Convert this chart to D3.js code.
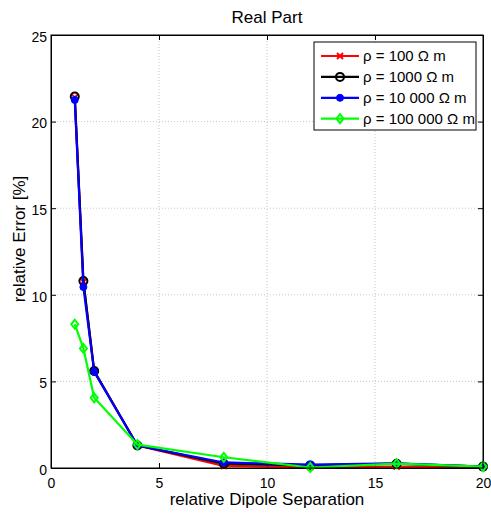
<!DOCTYPE html>
<html>
<head>
<meta charset="utf-8">
<script src="https://cdn.jsdelivr.net/npm/d3@7"></script>
<style>
body { margin: 0; background: #fff; }
text { font-family: "Liberation Sans", Arial, sans-serif; }
</style>
</head>
<body>
<div id="chart"></div>
<script>
// data
const separation = [1.1, 1.5, 2, 4, 8, 12, 16, 20];
const err100 = [21.4, 10.75, 5.6, 1.3, 0.12, 0.05, 0.08, 0.05];
const err1000 = [21.45, 10.8, 5.6, 1.3, 0.25, 0.15, 0.25, 0.08];
const err10000 = [21.25, 10.45, 5.55, 1.3, 0.32, 0.2, 0.27, 0.08];
const err100000 = [8.3, 6.9, 4.05, 1.35, 0.62, 0.03, 0.25, 0.08];
const seriesNames = ["ρ = 100 Ω m", "ρ = 1000 Ω m", "ρ = 10 000 Ω m", "ρ = 100 000 Ω m"];
const xTicks = [0, 5, 10, 15, 20];
const yTicks = [0, 5, 10, 15, 20, 25];

const series = [
    {name: seriesNames[0], values: err100, color: "#ff0000", marker: "x"},
    {name: seriesNames[1], values: err1000, color: "#000000", marker: "o"},
    {name: seriesNames[2], values: err10000, color: "#0000ff", marker: "dot"},
    {name: seriesNames[3], values: err100000, color: "#00ff00", marker: "d"}
];

const W = 491, H = 517;
const margin = {top: 35, right: 8, bottom: 49, left: 51};
const svg = d3.select("#chart").append("svg")
    .attr("width", W)
    .attr("height", H);

const x = d3.scaleLinear().domain([0, 20]).range([margin.left, W - margin.right]);
const y = d3.scaleLinear().domain([0, 25]).range([H - margin.bottom, margin.top]);

// grid
const grid = svg.append("g");
xTicks.slice(1, -1).forEach(t => {
    grid.append("line")
        .attr("x1", x(t)).attr("x2", x(t))
        .attr("y1", y(0)).attr("y2", y(25))
        .attr("stroke", "#c8c8c8").attr("stroke-dasharray", "1,2");
});
yTicks.slice(1, -1).forEach(t => {
    grid.append("line")
        .attr("x1", x(0)).attr("x2", x(20))
        .attr("y1", y(t)).attr("y2", y(t))
        .attr("stroke", "#c8c8c8").attr("stroke-dasharray", "1,2");
});

// axes (ticks pointing inward)
const xAxis = svg.append("g")
    .attr("transform", "translate(0," + y(0) + ")")
    .call(d3.axisBottom(x).tickValues(xTicks).tickSize(-5).tickPadding(10).tickSizeOuter(0));
const xAxisTop = svg.append("g")
    .attr("transform", "translate(0," + y(25) + ")")
    .call(d3.axisTop(x).tickValues(xTicks).tickSize(-5).tickFormat("").tickSizeOuter(0));
const yAxis = svg.append("g")
    .attr("transform", "translate(" + x(0) + ",0)")
    .call(d3.axisLeft(y).tickValues(yTicks).tickSize(-5).tickPadding(4).tickSizeOuter(0));
const yAxisRight = svg.append("g")
    .attr("transform", "translate(" + x(20) + ",0)")
    .call(d3.axisRight(y).tickValues(yTicks).tickSize(-5).tickFormat("").tickSizeOuter(0));

[xAxis, xAxisTop, yAxis, yAxisRight].forEach(a => {
    a.select(".domain").attr("stroke", "#000");
    a.selectAll("text").style("font-size", "14px").attr("fill", "#000")
        .style("font-family", "Liberation Sans, Arial, sans-serif");
});
yAxis.selectAll("text").attr("dy", "0.45em");

// lines and markers
const line = d3.line()
    .x((d, i) => x(separation[i]))
    .y(d => y(d));

function drawMarker(g, s, cx, cy) {
    if (s.marker === "x") {
        g.append("path")
            .attr("d", `M${cx - 3},${cy - 3}L${cx + 3},${cy + 3}M${cx - 3},${cy + 3}L${cx + 3},${cy - 3}`)
            .attr("stroke", s.color).attr("stroke-width", 2);
    } else if (s.marker === "o") {
        g.append("circle").attr("cx", cx).attr("cy", cy).attr("r", 4)
            .attr("fill", "none").attr("stroke", s.color).attr("stroke-width", 2);
    } else if (s.marker === "dot") {
        g.append("circle").attr("cx", cx).attr("cy", cy).attr("r", 3.5)
            .attr("fill", s.color).attr("stroke", s.color);
    } else {
        g.append("path")
            .attr("d", `M${cx},${cy - 4.5}L${cx + 3.5},${cy}L${cx},${cy + 4.5}L${cx - 3.5},${cy}Z`)
            .attr("fill", "none").attr("stroke", s.color).attr("stroke-width", 2);
    }
}

series.forEach(s => {
    const g = svg.append("g");
    g.append("path")
        .datum(s.values)
        .attr("d", line)
        .attr("fill", "none")
        .attr("stroke", s.color)
        .attr("stroke-width", 2.2)
        .attr("stroke-linejoin", "round");
    s.values.forEach((v, i) => drawMarker(g, s, x(separation[i]), y(v)));
});

// box outline on top
svg.append("rect")
    .attr("x", x(0)).attr("y", y(25))
    .attr("width", x(20) - x(0)).attr("height", y(0) - y(25))
    .attr("fill", "none").attr("stroke", "#000");

// legend
const legend = svg.append("g");
legend.append("rect")
    .attr("x", 314).attr("y", 42).attr("width", 162).attr("height", 88)
    .attr("fill", "#fff").attr("stroke", "#000");
series.forEach((s, i) => {
    const ly = 56 + i * 20.9;
    legend.append("line")
        .attr("x1", 321).attr("x2", 359).attr("y1", ly).attr("y2", ly)
        .attr("stroke", s.color).attr("stroke-width", 2.2);
    drawMarker(legend, s, 340, ly);
    legend.append("text")
        .attr("x", 363).attr("y", ly + 5)
        .style("font-size", "15px")
        .text(s.name);
});

// title and labels
svg.append("text")
    .attr("x", (x(0) + x(20)) / 2).attr("y", 23)
    .attr("text-anchor", "middle")
    .style("font-size", "17px")
    .text("Real Part");
svg.append("text")
    .attr("x", (x(0) + x(20)) / 2).attr("y", 505)
    .attr("text-anchor", "middle")
    .style("font-size", "17px")
    .text("relative Dipole Separation");
svg.append("text")
    .attr("transform", "translate(25,239) rotate(-90)")
    .attr("text-anchor", "middle")
    .style("font-size", "17px")
    .text("relative Error [%]");
</script>
</body>
</html>
